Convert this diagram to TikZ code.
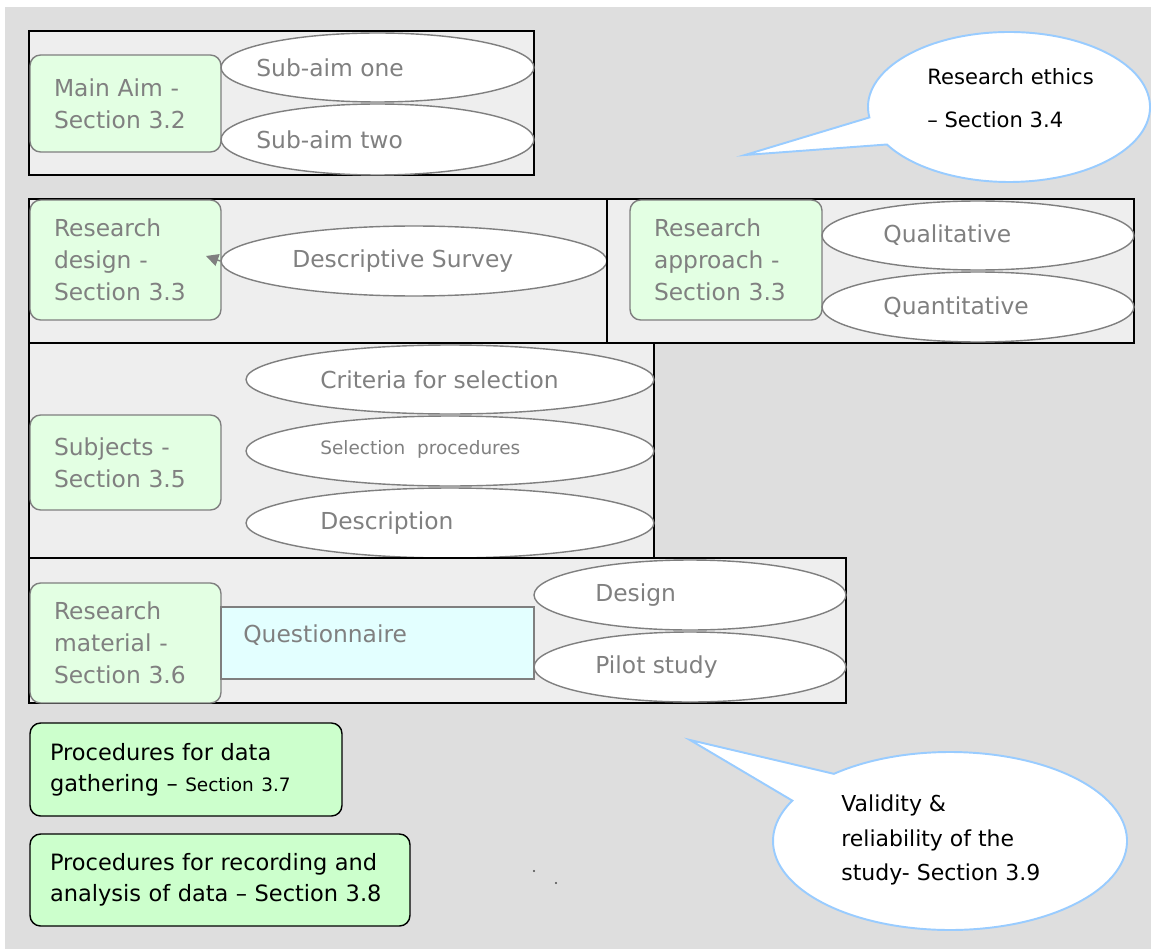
\documentclass[tikz,border=0pt]{standalone}
\usepackage{fontspec}
\setmainfont{DejaVu Sans}
\usetikzlibrary{shapes.geometric, arrows.meta, fit, calc}
\definecolor{bgc}{HTML}{DEDEDE}
\definecolor{grpc}{HTML}{EEEEEE}
\definecolor{lgreen}{HTML}{E3FFE3}
\definecolor{pgreen}{HTML}{CCFFCC}
\definecolor{lcyan}{HTML}{E3FFFF}
\definecolor{bordc}{HTML}{7F7F7F}
\definecolor{txtc}{HTML}{808080}
\definecolor{callc}{HTML}{99CCFF}
\newcommand\gfont{\fontsize{13.3}{18.2}\selectfont}
\newcommand\sfont{\fontsize{10.5}{12}\selectfont}
\newcommand\bfont{\fontsize{12.8}{17.6}\selectfont}
\tikzset{
 grp/.style={draw=black, line width=1.1pt, fill=grpc, inner sep=0pt},
 lbl/.style={draw=bordc, line width=0.8pt, fill=lgreen, rounded corners=6pt, inner sep=0pt, align=left, text=txtc, font=\gfont},
 qbox/.style={draw=bordc, line width=0.8pt, fill=lcyan, inner sep=0pt},
 ov/.style={ellipse, draw=bordc, line width=0.8pt, fill=white, inner sep=0pt},
 et/.style={text=txtc, font=\gfont, inner sep=0pt},
 proc/.style={draw=black, line width=0.8pt, fill=pgreen, rounded corners=6pt, inner sep=0pt, align=left, text=black, font=\bfont},
 bubble/.style={draw=callc, line width=1.1pt, fill=white},
 ct/.style={text=black, align=left, inner sep=0pt},
 arr/.style={draw=bordc, fill=bordc, line width=0.8pt, -{Triangle[length=7pt,width=7pt]}},
 dotn/.style={circle, fill=black!70, inner sep=0pt, minimum size=1.2pt}
}
\begin{document}
\begin{tikzpicture}[x=0.02cm, y=-0.02cm]
\useasboundingbox (0,0) rectangle (1151,949);
\fill[bgc] (5,7) rectangle (1151,949);

% ---- Main aim group
\node[grp, fit={(29,31)(534,175)}] (g1) {};
\node[lbl, minimum width=3.82cm, minimum height=1.94cm, text width=2.86cm] (ma) at (125.5,103.5) {Main Aim -\\Section 3.2};
\node[ov, minimum width=6.26cm, minimum height=1.38cm] (s1) at (377.5,67.5) {};
\node[et, anchor=west] (s1t) at (256,67.5) {Sub-aim one};
\node[ov, minimum width=6.26cm, minimum height=1.42cm] (s2) at (377.5,139.5) {};
\node[et, anchor=west] (s2t) at (256,139.5) {Sub-aim two};

% ---- Research design group
\node[grp, fit={(29,199)(607,343)}] (g2) {};
\node[lbl, minimum width=3.82cm, minimum height=2.4cm, text width=2.86cm] (rd) at (125.5,260) {Research\\design -\\Section 3.3};
\node[ov, minimum width=7.72cm, minimum height=1.4cm] (ds) at (414,261) {};
\node[et, anchor=west] (dst) at (292,261) {Descriptive Survey};
\coordinate (atip) at (206,256);
\draw[arr] (ds.west) -- (atip);

% ---- Research approach group
\node[grp, fit={(607,199)(1134,343)}] (g3) {};
\node[lbl, minimum width=3.84cm, minimum height=2.4cm, text width=2.88cm] (ra) at (726,260) {Research\\approach -\\Section 3.3};
\node[ov, minimum width=6.24cm, minimum height=1.38cm] (q1) at (978,235.5) {};
\node[et, anchor=west] (q1t) at (883,235.5) {Qualitative};
\node[ov, minimum width=6.24cm, minimum height=1.4cm] (q2) at (978,307) {};
\node[et, anchor=west] (q2t) at (883,307) {Quantitative};

% ---- Subjects group
\node[grp, fit={(29,343)(654,558)}] (g4) {};
\node[lbl, minimum width=3.82cm, minimum height=1.9cm, text width=2.86cm] (sb) at (125.5,462.5) {Subjects -\\Section 3.5};
\node[ov, minimum width=8.16cm, minimum height=1.38cm] (c1) at (450,379.5) {};
\node[et, anchor=west] (c1t) at (320,379.5) {Criteria for selection};
\node[ov, minimum width=8.16cm, minimum height=1.4cm] (c2) at (450,451) {};
\node[et, font=\sfont, anchor=west] (c2t) at (320,449) {Selection\ \ procedures};
\node[ov, minimum width=8.16cm, minimum height=1.4cm] (c3) at (450,523) {};
\node[et, anchor=west] (c3t) at (320,523) {Description};

% ---- Research material group
\node[grp, fit={(29,558)(846,703)}] (g5) {};
\node[lbl, minimum width=3.82cm, minimum height=2.4cm, text width=2.86cm] (rm) at (125.5,643) {Research\\material -\\Section 3.6};
\node[qbox, minimum width=6.26cm, minimum height=1.44cm] (qn) at (377.5,643) {};
\node[et, anchor=west] (qnt) at (243,635) {Questionnaire};
\node[ov, minimum width=6.24cm, minimum height=1.4cm] (d1) at (690,595) {};
\node[et, anchor=west] (d1t) at (595,595) {Design};
\node[ov, minimum width=6.24cm, minimum height=1.4cm] (d2) at (690,667) {};
\node[et, anchor=west] (d2t) at (595,667) {Pilot study};

% ---- Procedures
\node[proc, minimum width=6.24cm, minimum height=1.86cm, text width=5.44cm] (p1) at (186,769.5) {Procedures for data\\gathering -- {\fontsize{10.5}{17.6}\selectfont Section 3.7}};
\node[proc, minimum width=7.6cm, minimum height=1.84cm, text width=6.8cm] (p2) at (220,880) {Procedures for recording and\\analysis of data -- Section 3.8};

\node[dotn] (dot1) at (534,871) {};
\node[dotn] (dot2) at (556,883) {};

% ---- Research ethics callout
\coordinate (ec) at (1009,107);
\coordinate (etip) at (745,155);
\draw[bubble] (etip) -- ($(ec)+(172:141 and 75)$) arc[start angle=172, end angle=510, x radius=141, y radius=75] -- cycle;
\node[ct, font=\fontsize{12}{24.4}\selectfont, anchor=west] (eth) at (927,98) {Research ethics\\-- Section 3.4};

% ---- Validity callout
\coordinate (vc) at (950,841);
\coordinate (vtip) at (690,740);
\draw[bubble] (vtip) -- ($(vc)+(229:177 and 89)$) arc[start angle=229, end angle=567, x radius=177, y radius=89] -- cycle;
\node[ct, font=\fontsize{12.5}{19.6}\selectfont, anchor=west] (val) at (841,840) {Validity \&\\reliability of the\\study- Section 3.9};
\end{tikzpicture}
\end{document}
